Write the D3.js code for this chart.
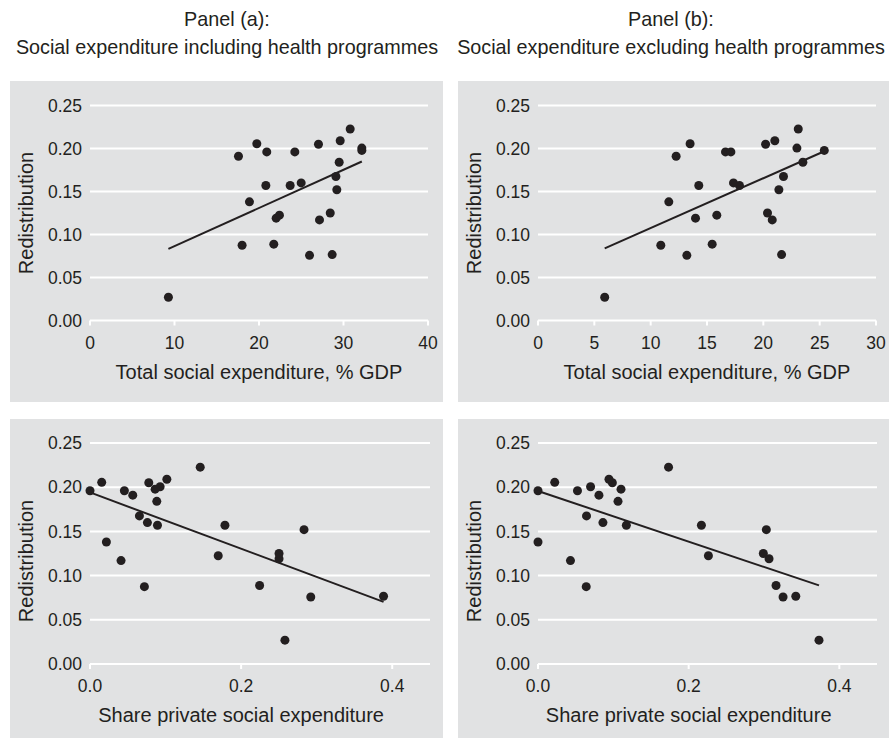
<!DOCTYPE html>
<html>
<head>
<meta charset="utf-8">
<script src="https://cdn.jsdelivr.net/npm/d3@7"></script>
<style>
  body { margin: 0; background: #fff; }
  text { font-family: "Liberation Sans", Arial, Helvetica, sans-serif; fill: #231f20; }
</style>
</head>
<body>
<svg id="chart" width="889" height="738"></svg>
<script>
// Redistribution for each country (same order in every x series)
const redistribution = [0.027, 0.191, 0.2055, 0.205, 0.196, 0.196, 0.2227, 0.209, 0.2005, 0.1978,
  0.184, 0.1675, 0.152, 0.157, 0.157, 0.160, 0.138, 0.1225, 0.119, 0.117,
  0.125, 0.0875, 0.0888, 0.0758, 0.0766];

// Total social expenditure, % GDP (including / excluding health programmes)
const totalInclHealth = [9.28, 17.57, 19.74, 27.04, 20.92, 24.24, 30.79, 29.61, 32.17, 32.17,
  29.49, 29.10, 29.21, 20.81, 23.69, 24.99, 18.87, 22.42, 22.03, 27.16,
  28.43, 18.0, 21.75, 25.98, 28.66];
const totalExclHealth = [5.92, 12.26, 13.50, 20.20, 16.64, 17.12, 23.10, 21.02, 22.98, 25.41,
  23.51, 21.79, 21.38, 14.27, 17.88, 17.35, 11.61, 15.87, 13.98, 20.79,
  20.37, 10.90, 15.46, 13.21, 21.62];

// Share of private social expenditure (including / excluding health programmes)
const privateShareIncl = [0.258, 0.0566, 0.0155, 0.0778, 0.0, 0.0455, 0.1459, 0.1017, 0.0928, 0.0862,
  0.0884, 0.0654, 0.2833, 0.0893, 0.1786, 0.0760, 0.0217, 0.1697, 0.2502, 0.0411,
  0.2502, 0.0720, 0.2245, 0.2922, 0.3885];
const privateShareExcl = [0.373, 0.0809, 0.0222, 0.0987, 0.0, 0.0524, 0.1733, 0.0942, 0.0698, 0.1102,
  0.1062, 0.0644, 0.3031, 0.1173, 0.2169, 0.0862, 0.0, 0.2262, 0.3067, 0.0431,
  0.2991, 0.0640, 0.3160, 0.3253, 0.3422];

// Tick values and labels
const yTicks = [0, 0.05, 0.10, 0.15, 0.20, 0.25];
const totalTicksIncl = [0, 10, 20, 30, 40];
const totalTicksExcl = [0, 5, 10, 15, 20, 25, 30];
const shareTicks = [0, 0.2, 0.4];
const panelTitles = [
  ["Panel (a):", "Social expenditure including health programmes"],
  ["Panel (b):", "Social expenditure excluding health programmes"]
];
const xTitles = ["Total social expenditure, % GDP", "Share private social expenditure"];
const yTitle = "Redistribution";

// Layout
const cols = [
  { bgX: 10, bgW: 433, x0: 90, titleX: 227 },
  { bgX: 458, bgW: 431, x0: 538, titleX: 671 }
];
const rows = [
  { bgY: 81, bgH: 321, yTop: 105.5, yBot: 320.5, yTitleY: 213 },
  { bgY: 419, bgH: 319, yTop: 443, yBot: 664, yTitleY: 561 }
];

const panels = [
  { col: 0, row: 0, xs: totalInclHealth, xMax: 40, x1: 428, ticks: totalTicksIncl, fmt: d3.format("d"), title: xTitles[0] },
  { col: 1, row: 0, xs: totalExclHealth, xMax: 30, x1: 876, ticks: totalTicksExcl, fmt: d3.format("d"), title: xTitles[0] },
  { col: 0, row: 1, xs: privateShareIncl, xMax: 0.45, x1: 430, ticks: shareTicks, fmt: d3.format(".1f"), title: xTitles[1] },
  { col: 1, row: 1, xs: privateShareExcl, xMax: 0.45, x1: 877, ticks: shareTicks, fmt: d3.format(".1f"), title: xTitles[1] }
];

const ink = "#231f20";
const svg = d3.select("#chart");

// Column headings
panelTitles.forEach((lines, i) => {
  const t = svg.append("text")
    .attr("x", cols[i].titleX)
    .attr("text-anchor", "middle")
    .style("font-size", "19.8px");
  lines.forEach((ln, j) => t.append("tspan").attr("x", cols[i].titleX).attr("y", 26 + j * 28).text(ln));
});

// Least-squares fit
function fit(xs, ys) {
  const mx = d3.mean(xs), my = d3.mean(ys);
  let sxy = 0, sxx = 0;
  xs.forEach((x, i) => { sxy += (x - mx) * (ys[i] - my); sxx += (x - mx) * (x - mx); });
  const b = sxy / sxx;
  return { a: my - b * mx, b };
}

panels.forEach(p => {
  const c = cols[p.col], r = rows[p.row];
  const g = svg.append("g");
  const x = d3.scaleLinear().domain([0, p.xMax]).range([c.x0, p.x1]);
  const y = d3.scaleLinear().domain([0, 0.25]).range([r.yBot, r.yTop]);

  g.append("rect")
    .attr("x", c.bgX).attr("y", r.bgY).attr("width", c.bgW).attr("height", r.bgH)
    .attr("fill", "#e1e2e3");

  // horizontal gridlines
  g.selectAll("line.grid").data(yTicks).join("line")
    .attr("class", "grid")
    .attr("x1", x(0)).attr("x2", x(p.xMax))
    .attr("y1", d => y(d)).attr("y2", d => y(d))
    .attr("stroke", "#fff").attr("stroke-width", 2);

  // x tick marks
  g.selectAll("line.tick").data(p.ticks).join("line")
    .attr("class", "tick")
    .attr("x1", d => x(d)).attr("x2", d => x(d))
    .attr("y1", y(0)).attr("y2", y(0) + 5)
    .attr("stroke", "#fff").attr("stroke-width", 2);

  // y tick labels
  g.selectAll("text.ylab").data(yTicks).join("text")
    .attr("class", "ylab")
    .attr("x", c.x0 - 8).attr("y", d => y(d))
    .attr("dy", "0.35em")
    .attr("text-anchor", "end")
    .style("font-size", "17.5px")
    .text(d3.format(".2f"));

  // x tick labels
  g.selectAll("text.xlab").data(p.ticks).join("text")
    .attr("class", "xlab")
    .attr("x", d => x(d)).attr("y", y(0) + 28)
    .attr("text-anchor", "middle")
    .style("font-size", "17.5px")
    .text(p.fmt);

  // fitted line
  const f = fit(p.xs, redistribution);
  const ext = d3.extent(p.xs);
  g.append("line")
    .attr("x1", x(ext[0])).attr("y1", y(f.a + f.b * ext[0]))
    .attr("x2", x(ext[1])).attr("y2", y(f.a + f.b * ext[1]))
    .attr("stroke", ink).attr("stroke-width", 2);

  // points
  g.selectAll("circle").data(p.xs).join("circle")
    .attr("cx", d => x(d))
    .attr("cy", (d, i) => y(redistribution[i]))
    .attr("r", 4.5)
    .attr("fill", ink);

  // axis titles
  const tMid = (p.ticks[0] + p.ticks[p.ticks.length - 1]) / 2;
  g.append("text")
    .attr("x", x(tMid)).attr("y", y(0) + 58)
    .attr("text-anchor", "middle")
    .style("font-size", "20px")
    .text(p.title);

  g.append("text")
    .attr("transform", `translate(${c.x0 - 57},${r.yTitleY}) rotate(-90)`)
    .attr("text-anchor", "middle")
    .style("font-size", "20px")
    .text(yTitle);
});
</script>
</body>
</html>
